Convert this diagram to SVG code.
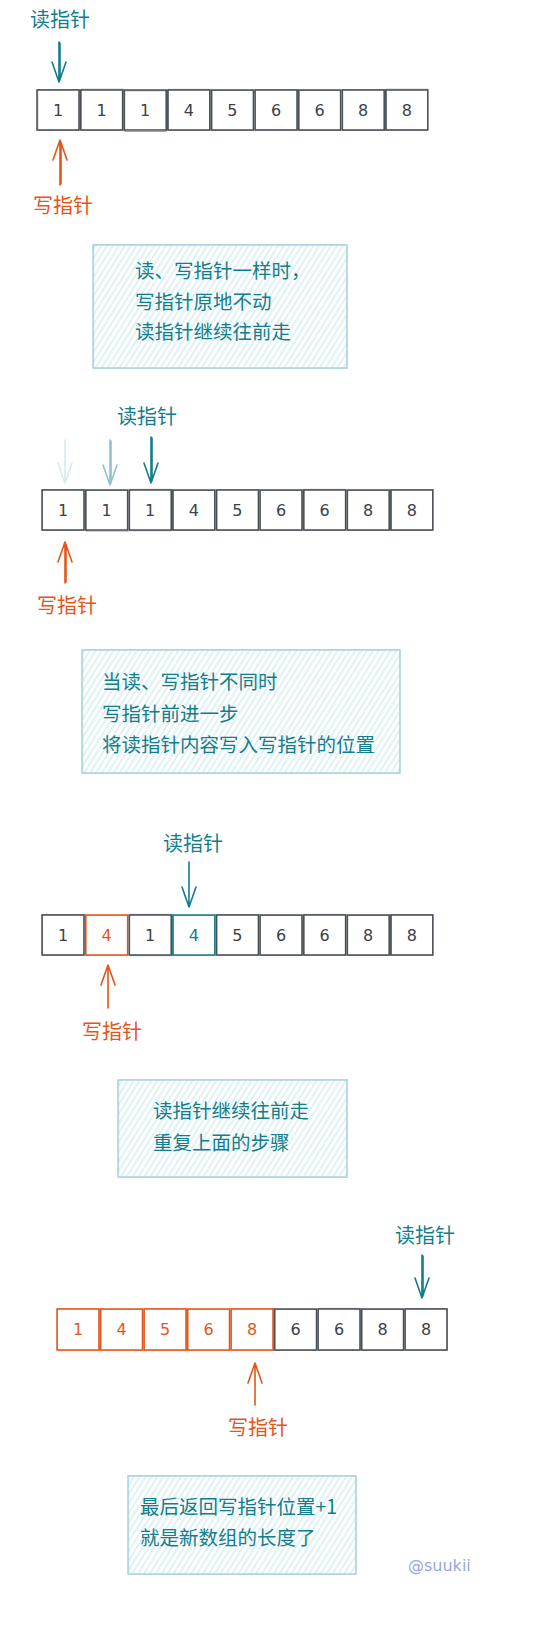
<svg xmlns="http://www.w3.org/2000/svg" width="553" height="1633" viewBox="0 0 553 1633">
<defs>
<pattern id="hatch" patternUnits="userSpaceOnUse" width="5" height="5" patternTransform="rotate(32)">
<line x1="1" y1="0" x2="1" y2="5" stroke="#c0e5ec" stroke-width="1"/>
</pattern>
<style>
.lbl{font-family:"Noto Sans CJK SC","Noto Sans",sans-serif;font-size:20px}
.note{font-family:"Noto Sans CJK SC","Noto Sans",sans-serif;font-size:19.5px;fill:#137d8c}
.teal{fill:#137d8c}
.orange{fill:#e3561a}
.cell{fill:none;stroke:#495057;stroke-width:1.5}
.cell2{fill:none;stroke:#495057;stroke-width:0.8;opacity:0.7}
.ocell{fill:none;stroke:#e3561a;stroke-width:1.5}
.ocell2{fill:none;stroke:#e3561a;stroke-width:0.8;opacity:0.7}
.tcell{fill:none;stroke:#137d8c;stroke-width:1.5}
.tcell2{fill:none;stroke:#137d8c;stroke-width:0.8;opacity:0.7}
.num{font-family:"DejaVu Sans","Liberation Sans",sans-serif;font-size:16px;text-anchor:middle;dominant-baseline:central;fill:#3b4148}
.onum{fill:#e3561a}
.tnum{fill:#137d8c}
.box{fill:url(#hatch);stroke:#a9d4dc;stroke-width:1.5}
.box2{fill:none;stroke:#a9d4dc;stroke-width:0.8;opacity:0.7}
.arr{fill:none;stroke-width:1.6;stroke-linecap:round;stroke-linejoin:round}
.ra{stroke:#137d8c}
.wa{stroke:#e3561a}
</style>
</defs>
<rect width="553" height="1633" fill="#ffffff"/>

<!-- Row 1 -->
<g id="row1">
<g id="r1c1"><rect class="cell" x="37" y="90" width="42" height="40"/><rect class="cell2" x="37.8" y="89.4" width="41.5" height="40.8"/><text class="num" x="58" y="110">1</text></g>
<g id="r1c2"><rect class="cell" x="80.6" y="90" width="42" height="40"/><rect class="cell2" x="81.2" y="89.2" width="42" height="41"/><text class="num" x="101.6" y="110">1</text></g>
<g id="r1c3"><rect class="cell" x="124.2" y="90" width="42" height="40"/><rect class="cell2" x="124.8" y="90.8" width="41.5" height="40.5"/><text class="num" x="145.2" y="110">1</text></g>
<g id="r1c4"><rect class="cell" x="167.8" y="90" width="42" height="40"/><rect class="cell2" x="168.4" y="89.3" width="41.6" height="40.9"/><text class="num" x="188.8" y="110">4</text></g>
<g id="r1c5"><rect class="cell" x="211.4" y="90" width="42" height="40"/><rect class="cell2" x="212" y="90.6" width="41.5" height="40"/><text class="num" x="232.4" y="110">5</text></g>
<g id="r1c6"><rect class="cell" x="255" y="90" width="42" height="40"/><rect class="cell2" x="255.6" y="89.4" width="41.7" height="40.6"/><text class="num" x="276" y="110">6</text></g>
<g id="r1c7"><rect class="cell" x="298.6" y="90" width="42" height="40"/><rect class="cell2" x="299.2" y="90.6" width="41.4" height="40"/><text class="num" x="319.6" y="110">6</text></g>
<g id="r1c8"><rect class="cell" x="342.2" y="90" width="42" height="40"/><rect class="cell2" x="342.8" y="89.4" width="41.5" height="41.2"/><text class="num" x="363.2" y="110">8</text></g>
<g id="r1c9"><rect class="cell" x="385.8" y="90" width="42" height="40"/><rect class="cell2" x="386.4" y="89.2" width="41.4" height="40.8"/><text class="num" x="406.8" y="110">8</text></g>
<g id="r1read"><text class="lbl teal" x="30" y="26.5">读指针</text></g>
<g id="r1write"><text class="lbl orange" x="33" y="213">写指针</text></g>
</g>

<g id="note1">
<rect class="box" x="93" y="245" width="254" height="123"/>
<rect class="box2" x="93.8" y="244.4" width="253" height="124"/>
<text class="note" x="135" y="278">读、写指针一样时，</text>
<text class="note" x="135" y="309">写指针原地不动</text>
<text class="note" x="135" y="339">读指针继续往前走</text>
</g>

<!-- Row 2 -->
<g id="row2">
<g id="r2c1"><rect class="cell" x="42" y="490" width="42" height="40"/><rect class="cell2" x="42.6" y="489.4" width="41.5" height="40.8"/><text class="num" x="63" y="510">1</text></g>
<g id="r2c2"><rect class="cell" x="85.6" y="490" width="42" height="40"/><rect class="cell2" x="86.2" y="490.6" width="41.6" height="40.4"/><text class="num" x="106.6" y="510">1</text></g>
<g id="r2c3"><rect class="cell" x="129.2" y="490" width="42" height="40"/><rect class="cell2" x="129.8" y="489.3" width="41.5" height="41.5"/><text class="num" x="150.2" y="510">1</text></g>
<g id="r2c4"><rect class="cell" x="172.8" y="490" width="42" height="40"/><rect class="cell2" x="173.4" y="490.6" width="41.4" height="40"/><text class="num" x="193.8" y="510">4</text></g>
<g id="r2c5"><rect class="cell" x="216.4" y="490" width="42" height="40"/><rect class="cell2" x="217" y="489.4" width="41.6" height="40.8"/><text class="num" x="237.4" y="510">5</text></g>
<g id="r2c6"><rect class="cell" x="260" y="490" width="42" height="40"/><rect class="cell2" x="260.6" y="490.6" width="41.4" height="40"/><text class="num" x="281" y="510">6</text></g>
<g id="r2c7"><rect class="cell" x="303.6" y="490" width="42" height="40"/><rect class="cell2" x="304.2" y="489.3" width="41.6" height="40.9"/><text class="num" x="324.6" y="510">6</text></g>
<g id="r2c8"><rect class="cell" x="347.2" y="490" width="42" height="40"/><rect class="cell2" x="347.8" y="490.6" width="41.4" height="40"/><text class="num" x="368.2" y="510">8</text></g>
<g id="r2c9"><rect class="cell" x="390.8" y="490" width="42" height="40"/><rect class="cell2" x="391.4" y="489.4" width="41.5" height="40.8"/><text class="num" x="411.8" y="510">8</text></g>
<g id="r2read"><text class="lbl teal" x="117" y="424">读指针</text></g>
<g id="r2write"><text class="lbl orange" x="37" y="613">写指针</text></g>
</g>

<g id="note2">
<rect class="box" x="82" y="650" width="318" height="123"/>
<rect class="box2" x="82.8" y="649.4" width="317" height="124"/>
<text class="note" x="102" y="689">当读、写指针不同时</text>
<text class="note" x="102" y="721">写指针前进一步</text>
<text class="note" x="102" y="752">将读指针内容写入写指针的位置</text>
</g>

<!-- Row 3 -->
<g id="row3">
<g id="r3c1"><rect class="cell" x="42" y="915" width="42" height="40"/><rect class="cell2" x="42.6" y="914.4" width="41.5" height="40.8"/><text class="num" x="63" y="935">1</text></g>
<g id="r3c2"><rect class="ocell" x="85.6" y="915" width="42" height="40"/><rect class="ocell2" x="86.2" y="915.6" width="41.4" height="40"/><text class="num onum" x="106.6" y="935">4</text></g>
<g id="r3c3"><rect class="cell" x="129.2" y="915" width="42" height="40"/><rect class="cell2" x="129.8" y="914.3" width="41.5" height="41.4"/><text class="num" x="150.2" y="935">1</text></g>
<g id="r3c4"><rect class="tcell" x="172.8" y="915" width="42" height="40"/><rect class="tcell2" x="173.4" y="915.6" width="41.4" height="40"/><text class="num tnum" x="193.8" y="935">4</text></g>
<g id="r3c5"><rect class="cell" x="216.4" y="915" width="42" height="40"/><rect class="cell2" x="217" y="914.4" width="41.6" height="40.8"/><text class="num" x="237.4" y="935">5</text></g>
<g id="r3c6"><rect class="cell" x="260" y="915" width="42" height="40"/><rect class="cell2" x="260.6" y="915.6" width="41.4" height="40"/><text class="num" x="281" y="935">6</text></g>
<g id="r3c7"><rect class="cell" x="303.6" y="915" width="42" height="40"/><rect class="cell2" x="304.2" y="914.3" width="41.6" height="40.9"/><text class="num" x="324.6" y="935">6</text></g>
<g id="r3c8"><rect class="cell" x="347.2" y="915" width="42" height="40"/><rect class="cell2" x="347.8" y="915.6" width="41.4" height="40"/><text class="num" x="368.2" y="935">8</text></g>
<g id="r3c9"><rect class="cell" x="390.8" y="915" width="42" height="40"/><rect class="cell2" x="391.4" y="914.4" width="41.5" height="40.8"/><text class="num" x="411.8" y="935">8</text></g>
<g id="r3read"><text class="lbl teal" x="163" y="850.5">读指针</text></g>
<g id="r3write"><text class="lbl orange" x="82" y="1038.5">写指针</text></g>
</g>

<g id="note3">
<rect class="box" x="118" y="1080" width="229" height="97"/>
<rect class="box2" x="118.8" y="1079.4" width="228" height="98"/>
<text class="note" x="153" y="1118">读指针继续往前走</text>
<text class="note" x="153" y="1150">重复上面的步骤</text>
</g>

<!-- Row 4 -->
<g id="row4">
<g id="r4c1"><rect class="ocell" x="57" y="1309" width="42" height="41"/><rect class="ocell2" x="57.6" y="1308.4" width="41.5" height="41.8"/><text class="num onum" x="78" y="1329.5">1</text></g>
<g id="r4c2"><rect class="ocell" x="100.5" y="1309" width="42" height="41"/><rect class="ocell2" x="101.1" y="1309.6" width="41.4" height="41"/><text class="num onum" x="121.5" y="1329.5">4</text></g>
<g id="r4c3"><rect class="ocell" x="144" y="1309" width="42" height="41"/><rect class="ocell2" x="144.6" y="1308.3" width="41.6" height="42.4"/><text class="num onum" x="165" y="1329.5">5</text></g>
<g id="r4c4"><rect class="ocell" x="187.5" y="1309" width="42" height="41"/><rect class="ocell2" x="188.1" y="1309.6" width="41.4" height="41"/><text class="num onum" x="208.5" y="1329.5">6</text></g>
<g id="r4c5"><rect class="ocell" x="231" y="1309" width="42" height="41"/><rect class="ocell2" x="231.6" y="1308.4" width="41.6" height="41.8"/><text class="num onum" x="252" y="1329.5">8</text></g>
<g id="r4c6"><rect class="cell" x="274.5" y="1309" width="42" height="41"/><rect class="cell2" x="275.1" y="1309.6" width="41.4" height="41"/><text class="num" x="295.5" y="1329.5">6</text></g>
<g id="r4c7"><rect class="cell" x="318" y="1309" width="42" height="41"/><rect class="cell2" x="318.6" y="1308.3" width="41.6" height="41.9"/><text class="num" x="339" y="1329.5">6</text></g>
<g id="r4c8"><rect class="cell" x="361.5" y="1309" width="42" height="41"/><rect class="cell2" x="362.1" y="1309.6" width="41.4" height="41"/><text class="num" x="382.5" y="1329.5">8</text></g>
<g id="r4c9"><rect class="cell" x="405" y="1309" width="42" height="41"/><rect class="cell2" x="405.6" y="1308.4" width="41.5" height="41.8"/><text class="num" x="426" y="1329.5">8</text></g>
<g id="r4read"><text class="lbl teal" x="395" y="1242.5">读指针</text></g>
<g id="r4write"><text class="lbl orange" x="228" y="1434.5">写指针</text></g>
</g>

<g id="note4">
<rect class="box" x="128" y="1476" width="228" height="98"/>
<rect class="box2" x="128.8" y="1475.4" width="227" height="99"/>
<text class="note" x="140" y="1514">最后返回写指针位置+1</text>
<text class="note" x="140" y="1545">就是新数组的长度了</text>
</g>

<g id="credit"><text x="408" y="1571" style="font-family:'DejaVu Sans',sans-serif;font-size:16px;fill:#98a6e4">@suukii</text></g>

<!-- Connectors -->
<g id="connectors">
<path class="arr ra" d="M59 42 L59 82 M52 62 L59 82 L66 62 M60 43 L60 80"/>
<path class="arr wa" d="M60 185 L60 140 M53 160 L60 140 L67 160 M61 184 L61 142"/>

<path class="arr" stroke="#d6ebef" d="M65 440 L65 483 M58 463 L65 483 L72 463"/>
<path class="arr" stroke="#8fc3cc" d="M110 440 L110 485 M103 465 L110 485 L117 465 M111 441 L111 483"/>
<path class="arr ra" d="M151 437 L151 483 M144 463 L151 483 L158 463 M152 438 L152 481"/>
<path class="arr wa" d="M65 583 L65 542 M58 562 L65 542 L72 562 M66 582 L66 544"/>

<path class="arr ra" d="M189 862 L189 907 M182 887 L189 907 L196 887"/>
<path class="arr wa" d="M108 1008 L108 965 M101 985 L108 965 L115 985"/>

<path class="arr ra" d="M422 1255 L422 1298 M415 1278 L422 1298 L429 1278 M423 1256 L423 1296"/>
<path class="arr wa" d="M255 1405 L255 1363 M248 1383 L255 1363 L262 1383"/>
</g>
</svg>
